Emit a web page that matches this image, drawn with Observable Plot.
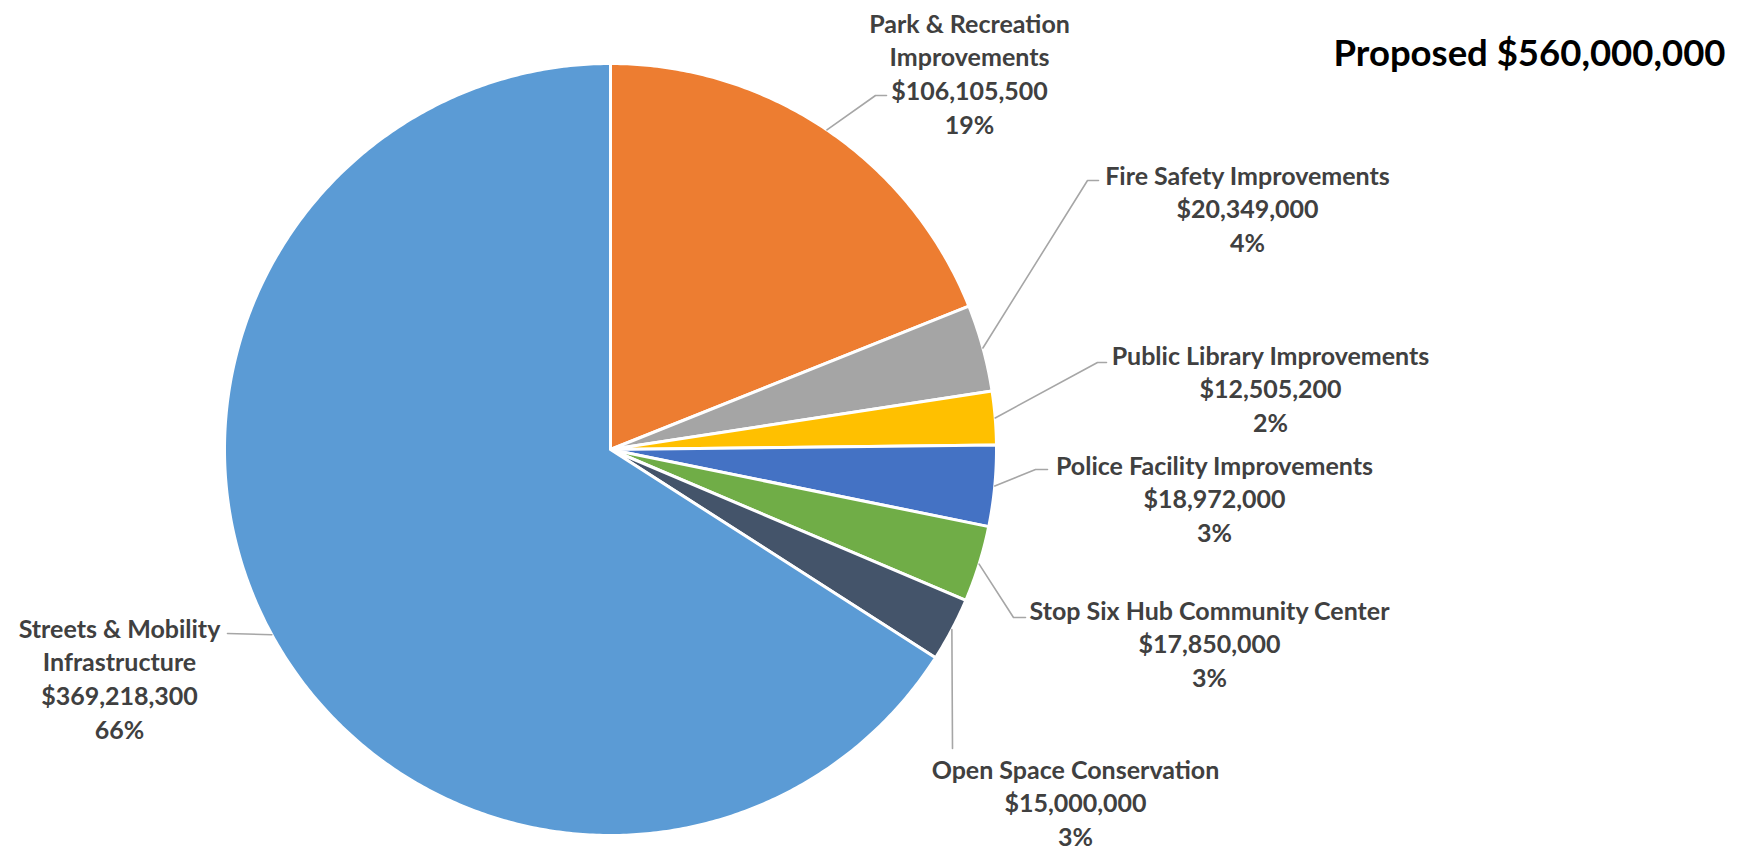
<!DOCTYPE html>
<html>
<head>
<meta charset="utf-8">
<script src="https://cdn.jsdelivr.net/npm/d3@7"></script>
<script src="https://cdn.jsdelivr.net/npm/@observablehq/plot@0.6"></script>
<style>
  html, body { margin: 0; padding: 0; background: #ffffff; }
  #chart { width: 1737px; height: 855px; }
</style>
</head>
<body>
<div id="chart"></div>
<script>
// ---- Data ----
const categories = [
  "Park & Recreation Improvements",
  "Fire Safety Improvements",
  "Public Library Improvements",
  "Police Facility Improvements",
  "Stop Six Hub Community Center",
  "Open Space Conservation",
  "Streets & Mobility Infrastructure"
];
const amounts = [106105500, 20349000, 12505200, 18972000, 17850000, 15000000, 369218300];
const percentLabels = ["19%", "4%", "2%", "3%", "3%", "3%", "66%"];
const nameLines = [
  ["Park & Recreation", "Improvements"],
  ["Fire Safety Improvements"],
  ["Public Library Improvements"],
  ["Police Facility Improvements"],
  ["Stop Six Hub Community Center"],
  ["Open Space Conservation"],
  ["Streets & Mobility", "Infrastructure"]
];
const titleText = "Proposed $560,000,000";

// ---- Styles / layout ----
const colors = ["#ED7D31", "#A5A5A5", "#FFC000", "#4472C4", "#70AD47", "#44546A", "#5B9BD5"];
const W = 1737, H = 855;
const CX = 610, CY = 449, R = 386;
// label block centres and leader-line bends (pixels)
const labelLayout = [
  {x: 969,  y: 72,  bends: [[875, 95], [886, 95]]},
  {x: 1247, y: 207, bends: [[1087, 180], [1098, 180]]},
  {x: 1270, y: 387, bends: [[1097, 362], [1106, 362]]},
  {x: 1214, y: 497, bends: [[1035, 469], [1047, 469]]},
  {x: 1209, y: 642, bends: [[1013, 617], [1025, 617]]},
  {x: 1075, y: 801, bends: [[952, 748]]},
  {x: 119,  y: 677, bends: [[227, 633]]}
];

const fmt = d3.format("$,");
const arcs = d3.pie().sort(null).value(d => d)(amounts);
const px = a => CX + R * Math.sin(a);
const py = a => CY - R * Math.cos(a);

// slice outlines
const slicePts = [];
arcs.forEach((a, i) => {
  const name = categories[i];
  slicePts.push({name, x: CX, y: CY});
  const n = Math.max(2, Math.ceil((a.endAngle - a.startAngle) / (Math.PI / 360)));
  for (let k = 0; k <= n; k++) {
    const t = a.startAngle + (a.endAngle - a.startAngle) * k / n;
    slicePts.push({name, x: px(t), y: py(t)});
  }
  slicePts.push({name, x: CX, y: CY});
});

// leader lines
const leaderPts = [];
arcs.forEach((a, i) => {
  const mid = (a.startAngle + a.endAngle) / 2;
  leaderPts.push({name: categories[i], x: px(mid), y: py(mid)});
  labelLayout[i].bends.forEach(([x, y]) => leaderPts.push({name: categories[i], x, y}));
});

const labels = categories.map((c, i) => ({
  name: c,
  x: labelLayout[i].x,
  y: labelLayout[i].y,
  text: [...nameLines[i], fmt(amounts[i]), percentLabels[i]].join("\n")
}));

const chart = Plot.plot({
  width: W,
  height: H,
  margin: 0,
  x: {domain: [0, W], range: [0, W], axis: null},
  y: {domain: [0, H], range: [0, H], axis: null},
  color: {domain: categories, range: colors},
  style: {background: "#ffffff"},
  marks: [
    Plot.line(slicePts, {x: "x", y: "y", z: "name", fill: "name", stroke: "#ffffff", strokeWidth: 3, strokeLinejoin: "round", curve: "linear"}),
    Plot.line(leaderPts, {x: "x", y: "y", z: "name", stroke: "#A6A6A6", strokeWidth: 1.6, curve: "linear"}),
    Plot.text(labels, {x: "x", y: "y", text: "text", fill: "#404040", fontSize: 25, fontWeight: "bold", fontFamily: "Lato", lineHeight: 1.348, textAnchor: "middle", lineAnchor: "middle"}),
    Plot.text([titleText], {frameAnchor: "top-right", dx: -12, dy: 40, text: d => d, fill: "#000000", fontSize: 36.5, fontWeight: "bold", fontFamily: "Lato", textAnchor: "end", lineAnchor: "top"})
  ]
});
document.getElementById("chart").appendChild(chart);
</script>
</body>
</html>
